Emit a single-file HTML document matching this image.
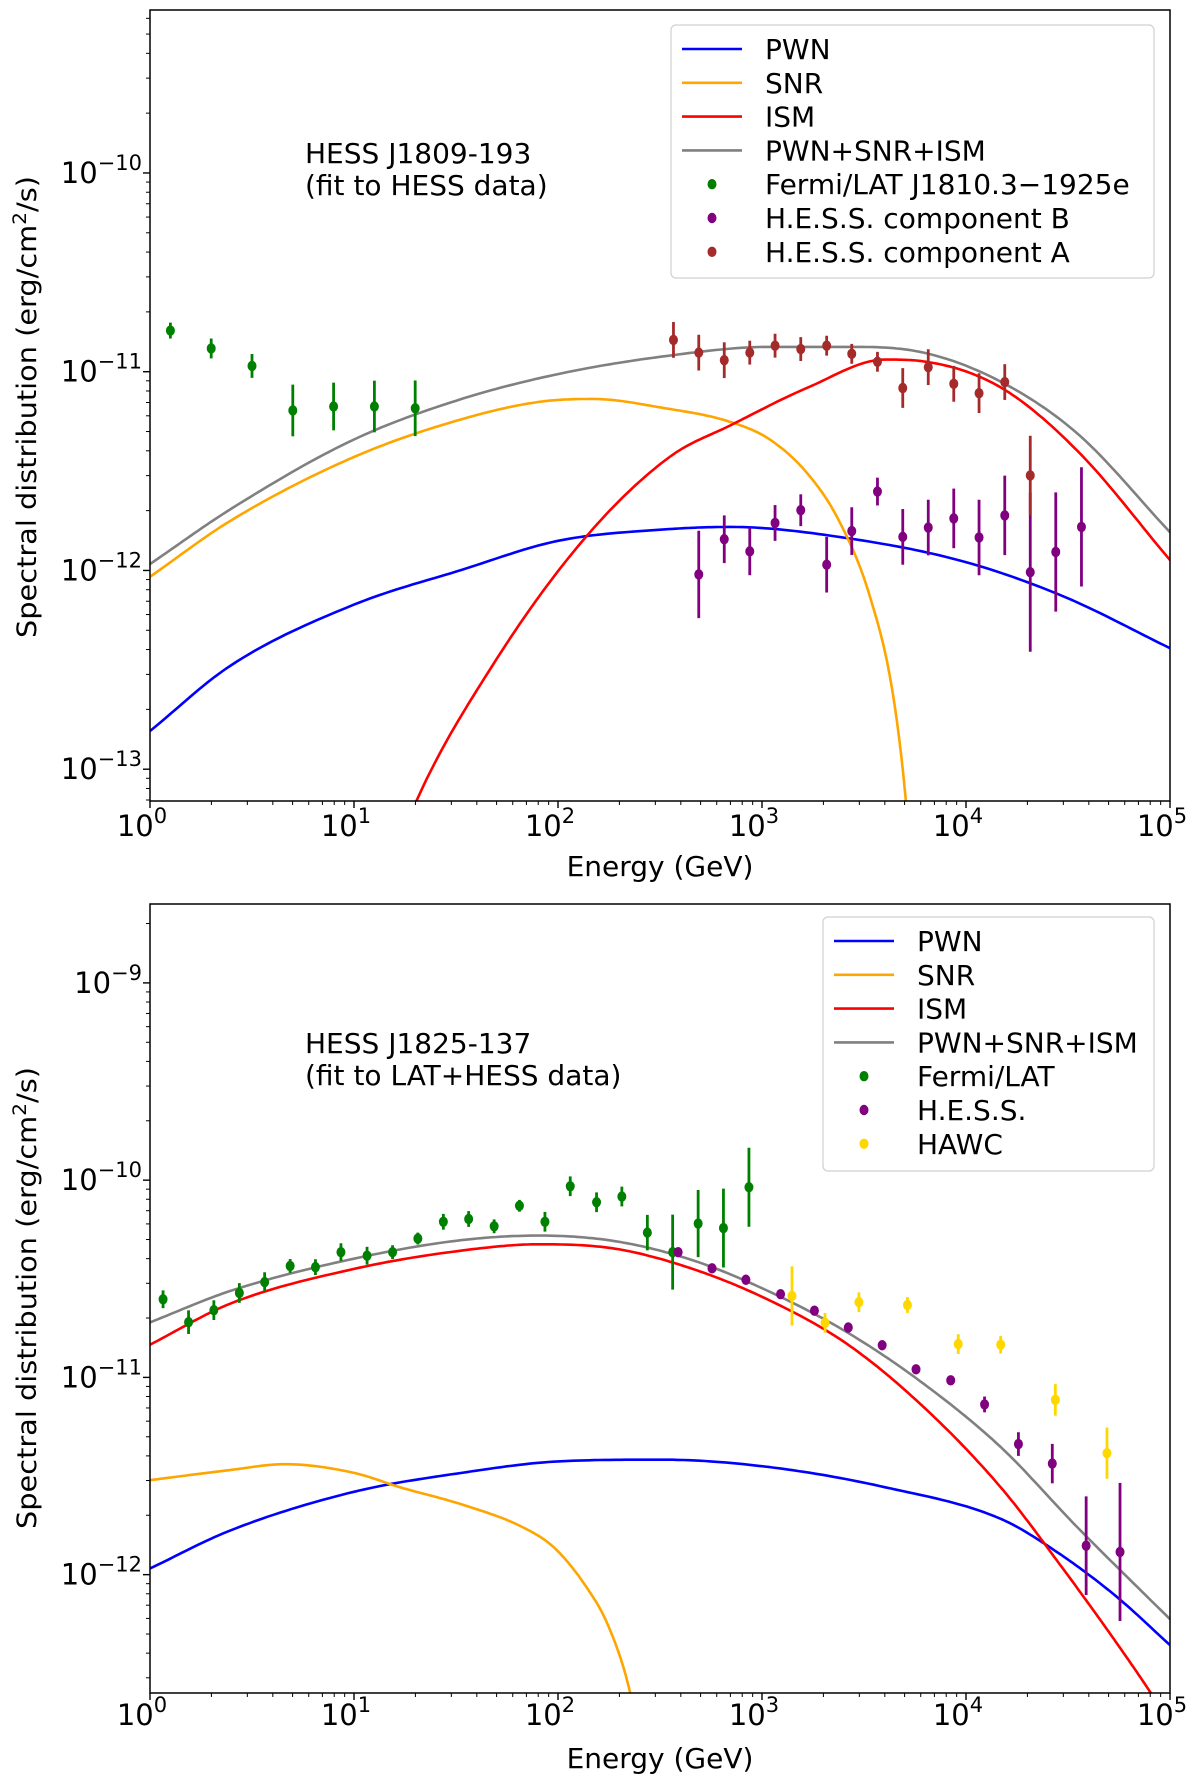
<!DOCTYPE html>
<html><head><meta charset="utf-8"><style>
body{margin:0;background:#fff}
svg{display:block;font-family:"DejaVu Sans","Liberation Sans",sans-serif}
</style></head><body>
<svg id="fig" width="1200" height="1780" viewBox="0 0 1200 1780" xmlns="http://www.w3.org/2000/svg"></svg>
<script>
// ---------- TOP PANEL DATA (log10 values: energy in GeV, flux in erg/cm2/s) ----------
const topFermiLogE=[0.10,0.30,0.50,0.70,0.90,1.10,1.30];
const topFermiLogF=[-10.793,-10.883,-10.971,-11.195,-11.175,-11.175,-11.184];
const topFermiErr=[0.04,0.05,0.06,0.13,0.12,0.13,0.14];
const topALogE=[2.566,2.69,2.815,2.94,3.064,3.19,3.317,3.44,3.566,3.69,3.815,3.94,4.064,4.19,4.315];
const topALogF=[-10.840,-10.904,-10.942,-10.904,-10.869,-10.886,-10.869,-10.910,-10.950,-11.082,-10.977,-11.061,-11.108,-11.052,-11.522];
const topAErr=[0.09,0.09,0.09,0.06,0.06,0.06,0.05,0.05,0.05,0.1,0.09,0.09,0.1,0.09,0.2];
const topBLogE=[2.69,2.815,2.94,3.064,3.19,3.317,3.44,3.566,3.69,3.815,3.94,4.064,4.19,4.315,4.44,4.566];
const topBLogF=[-12.020,-11.843,-11.904,-11.761,-11.697,-11.971,-11.802,-11.603,-11.831,-11.784,-11.738,-11.834,-11.723,-12.009,-11.907,-11.781];
const topBErr=[0.22,0.12,0.12,0.09,0.08,0.14,0.12,0.07,0.14,0.14,0.15,0.19,0.2,0.4,0.3,0.3];
const topPwnE=[0,0.396,1.0,1.528,2.0,2.528,2.849,3.415,3.981,4.472,5];
const topPwnF=[-12.808,-12.478,-12.172,-11.997,-11.851,-11.793,-11.781,-11.837,-11.953,-12.128,-12.391];
const topSnrE=[0,0.396,1.0,1.528,1.906,2.170,2.509,2.849,3.038,3.226,3.377,3.528,3.642,3.706,3.73];
const topSnrF=[-12.032,-11.749,-11.429,-11.239,-11.152,-11.137,-11.181,-11.254,-11.341,-11.516,-11.749,-12.128,-12.624,-13.169,-13.5];
const topIsmE=[1.2,1.302,1.679,2.132,2.547,2.849,3.226,3.604,3.792,4.170,4.547,5];
const topIsmF=[-13.45,-13.169,-12.478,-11.837,-11.429,-11.268,-11.079,-10.939,-10.948,-11.079,-11.399,-11.948];
const topSumE=[0,0.396,1.0,1.528,2.0,2.509,3.038,3.415,3.792,4.170,4.547,5];
const topSumF=[-11.968,-11.691,-11.341,-11.137,-11.012,-10.924,-10.875,-10.875,-10.904,-11.050,-11.312,-11.808];
const topYTicks=[-13,-12,-11,-10];
// ---------- BOTTOM PANEL DATA ----------
const botLatLogE=[0.064,0.189,0.313,0.438,0.562,0.687,0.811,0.936,1.064,1.189,1.313,1.438,1.562,1.687,1.811,1.936,2.06,2.189,2.313,2.438,2.562,2.687,2.811,2.936];
const botLatLogF=[-10.604,-10.72,-10.659,-10.572,-10.517,-10.435,-10.441,-10.365,-10.383,-10.365,-10.296,-10.211,-10.197,-10.234,-10.13,-10.211,-10.031,-10.112,-10.083,-10.266,-10.365,-10.22,-10.243,-10.036];
const botLatErr=[0.045,0.06,0.05,0.05,0.05,0.035,0.04,0.045,0.045,0.035,0.03,0.04,0.04,0.035,0.03,0.05,0.05,0.05,0.05,0.09,0.19,0.17,0.2,0.2];
const botHessLogE=[2.589,2.755,2.921,3.091,3.257,3.423,3.589,3.755,3.925,4.091,4.257,4.423,4.589,4.755];
const botHessLogF=[-10.365,-10.447,-10.505,-10.578,-10.662,-10.747,-10.837,-10.959,-11.015,-11.137,-11.338,-11.437,-11.853,-11.885];
const botHessErr=[0.01,0.01,0.01,0.01,0.015,0.015,0.015,0.02,0.02,0.04,0.06,0.1,0.25,0.35];
const botHawcLogE=[3.147,3.309,3.475,3.713,3.962,4.17,4.438,4.691];
const botHawcLogF=[-10.587,-10.723,-10.619,-10.633,-10.831,-10.834,-11.114,-11.384];
const botHawcErr=[0.15,0.05,0.05,0.04,0.05,0.045,0.08,0.13];
const botPwnE=[0,0.396,1.0,1.528,2.0,2.509,3.038,3.604,4.17,4.434,4.736,5];
const botPwnF=[-11.969,-11.775,-11.580,-11.484,-11.426,-11.417,-11.455,-11.557,-11.717,-11.877,-12.110,-12.357];
const botSnrE=[0,0.396,0.660,1.0,1.226,1.528,1.830,1.981,2.132,2.245,2.347,2.4];
const botSnrF=[-11.521,-11.469,-11.440,-11.484,-11.557,-11.644,-11.761,-11.863,-12.052,-12.256,-12.570,-12.85];
const botIsmE=[0,0.396,1.0,1.528,1.906,2.283,2.660,3.038,3.415,3.792,4.170,4.472,4.736,4.887,4.962];
const botIsmF=[-10.834,-10.625,-10.450,-10.357,-10.325,-10.348,-10.450,-10.610,-10.829,-11.150,-11.557,-11.965,-12.343,-12.570,-12.69];
const botSumE=[0,0.396,1.0,1.528,1.906,2.283,2.660,3.038,3.415,3.792,4.170,4.547,5];
const botSumF=[-10.721,-10.561,-10.398,-10.304,-10.281,-10.310,-10.406,-10.566,-10.770,-11.032,-11.353,-11.761,-12.226];
const botYTicks=[-12,-11,-10,-9];
const xTicks=[0,1,2,3,4,5];

const NS="http://www.w3.org/2000/svg";
const svg=document.getElementById('fig');
function mk(tag,attrs,parent){const e=document.createElementNS(NS,tag);for(const k in attrs)e.setAttribute(k,attrs[k]);(parent||svg).appendChild(e);return e;}
function supText(parent,x,y,exp,anchor){
  const t=mk('text',{x:x,y:y,'font-size':29,'text-anchor':anchor,fill:'#000'},parent);
  t.appendChild(document.createTextNode('10'));
  const s=mk('tspan',{'font-size':21,dy:-13},t);
  s.textContent=exp;
  return t;
}
// monotone cubic (Fritsch-Carlson) interpolation, sampled densely
function monoPath(xv,yv,xs,ys){
  const n=xv.length,d=[],m=[];
  for(let i=0;i<n-1;i++)d.push((yv[i+1]-yv[i])/(xv[i+1]-xv[i]));
  m[0]=d[0];m[n-1]=d[n-2];
  for(let i=1;i<n-1;i++){m[i]=(d[i-1]*d[i]<=0)?0:(d[i-1]+d[i])/2;}
  for(let i=0;i<n-1;i++){
    if(d[i]===0){m[i]=0;m[i+1]=0;continue;}
    const a=m[i]/d[i],b=m[i+1]/d[i],s=a*a+b*b;
    if(s>9){const t=3/Math.sqrt(s);m[i]=t*a*d[i];m[i+1]=t*b*d[i];}
  }
  let dstr='';
  for(let i=0;i<n-1;i++){
    const h=xv[i+1]-xv[i];
    for(let k=0;k<=20;k++){
      if(i>0&&k===0)continue;
      const t=k/20,t2=t*t,t3=t2*t;
      const y=(2*t3-3*t2+1)*yv[i]+(t3-2*t2+t)*h*m[i]+(-2*t3+3*t2)*yv[i+1]+(t3-t2)*h*m[i+1];
      const x=xv[i]+t*h;
      dstr+=(dstr?' L':'M')+xs(x).toFixed(1)+','+ys(y).toFixed(1);
    }
  }
  return dstr;
}
function panel(cfg){
  const g=mk('g',{});
  
  
  const L=150,R=1170,T=cfg.top,B=cfg.bottom;
  const xs=v=>L+(v-0)/5*(R-L);
  const ys=v=>B-(v-cfg.ymin)/(cfg.ymax-cfg.ymin)*(B-T);
  const cid='clip'+cfg.name;
  const cp=mk('clipPath',{id:cid},g);mk('rect',{x:L,y:T,width:R-L,height:B-T},cp);
  const plot=mk('g',{'clip-path':'url(#'+cid+')'},g);
  cfg.curves.forEach(c=>{
    const p=mk('path',{d:monoPath(c.e,c.f,xs,ys),fill:'none',stroke:c.color,'stroke-width':2.6,'stroke-linejoin':'round'},plot);
    
    
  });
  cfg.series.forEach(s=>{
    const sg=mk('g',{},plot);
    
    
    s.e.forEach((e,i)=>{
      const x=xs(e),y=ys(s.f[i]);
      mk('line',{x1:x,x2:x,y1:ys(s.f[i]-s.err[i]),y2:ys(s.f[i]+s.err[i]),stroke:s.color,'stroke-width':2.8},sg);
      const c=mk('ellipse',{cx:x,cy:y,rx:4.5,ry:5.2,fill:s.color},sg);
      
      
    });
  });
  const fr=mk('rect',{x:L,y:T,width:R-L,height:B-T,fill:'none',stroke:'#000','stroke-width':1.5},g);
  
  
  const xa=mk('g',{},g);
  
  
  xTicks.forEach(t=>{
    const x=xs(t);
    mk('line',{x1:x,x2:x,y1:B,y2:B+7,stroke:'#000','stroke-width':1.4},xa);
    const lbl=supText(xa,x-8,cfg.xlabY,String(t),'middle');
    
    
    if(t<5)for(let m=2;m<=9;m++){const xm=xs(t+Math.log10(m));mk('line',{x1:xm,x2:xm,y1:B,y2:B+4,stroke:'#000','stroke-width':1},xa);}
  });
  const xt=mk('text',{x:660,y:cfg.xTitleY,'font-size':28,'text-anchor':'middle'},g);
  xt.textContent='Energy (GeV)';
  
  
  const ya=mk('g',{},g);
  
  
  for(let d=Math.floor(cfg.ymin);d<=Math.ceil(cfg.ymax);d++){
    for(let m=1;m<=9;m++){
      const v=d+Math.log10(m);if(v<cfg.ymin||v>cfg.ymax)continue;
      const y=ys(v);
      mk('line',{x1:L,x2:L-(m===1?7:4),y1:y,y2:y,stroke:'#000','stroke-width':m===1?1.4:1},ya);
    }
  }
  cfg.yTicks.forEach(t=>{
    const lbl=supText(ya,142,ys(t)+10,'\u2212'+(-t),'end');
    
    
  });
  const yt=mk('text',{x:0,y:0,'font-size':27,'text-anchor':'middle',transform:'translate(36,'+cfg.yTitleY+') rotate(-90)',textLength:462,lengthAdjust:'spacingAndGlyphs'},g);
  yt.appendChild(document.createTextNode('Spectral distribution (erg/cm'));
  const s2=mk('tspan',{'font-size':19,dy:-10},yt);s2.textContent='2';
  const s3=mk('tspan',{dy:10},yt);s3.textContent='/s)';
  
  
  cfg.note.forEach((n,i)=>{
    const t=mk('text',{x:305,y:cfg.noteY+i*32,'font-size':28},g);
    t.textContent=n;
    
    
  });
  const lg=mk('g',{},g);
  
  
  const lb=cfg.legendBox;
  mk('rect',{x:lb[0],y:lb[1],width:lb[2],height:lb[3],rx:5,fill:'#fff','fill-opacity':0.85,stroke:'#d0d0d0','stroke-width':1.2},lg);
  cfg.legend.forEach((it,i)=>{
    const cy=cfg.legRow0+i*cfg.legStep;
    const eg=mk('g',{},lg);
    
    
    if(it.type==='line')mk('line',{x1:cfg.legLineX,x2:cfg.legLineX+60,y1:cy,y2:cy,stroke:it.color,'stroke-width':2.6},eg);
    else mk('ellipse',{cx:cfg.legLineX+30,cy:cy,rx:4.5,ry:5.2,fill:it.color},eg);
    const t=mk('text',{x:cfg.legLineX+83,y:cy+10,'font-size':28},eg);
    t.textContent=it.label;
  });
}
const curveColors={pwn:'#0000ff',snr:'#ffa500',ism:'#ff0000',sum:'#808080'};
panel({name:'top-panel',top:10,bottom:801,ymin:-13.16,ymax:-9.18,yTicks:topYTicks,xlabY:836,xTitleY:876,yTitleY:407,
  note:['HESS J1809-193','(fit to HESS data)'],noteY:163,
  legendBox:[671,25,483,253],legRow0:49,legStep:33.8,legLineX:682,
  curves:[{name:'pwn-curve',e:topPwnE,f:topPwnF,color:curveColors.pwn},{name:'snr-curve',e:topSnrE,f:topSnrF,color:curveColors.snr},{name:'ism-curve',e:topIsmE,f:topIsmF,color:curveColors.ism},{name:'total-curve',e:topSumE,f:topSumF,color:curveColors.sum}],
  series:[{name:'fermi-lat-points',e:topFermiLogE,f:topFermiLogF,err:topFermiErr,color:'#008000'},{name:'hess-b-points',e:topBLogE,f:topBLogF,err:topBErr,color:'#800080'},{name:'hess-a-points',e:topALogE,f:topALogF,err:topAErr,color:'#a52a2a'}],
  legend:[{type:'line',color:curveColors.pwn,label:'PWN'},{type:'line',color:curveColors.snr,label:'SNR'},{type:'line',color:curveColors.ism,label:'ISM'},{type:'line',color:curveColors.sum,label:'PWN+SNR+ISM'},{type:'dot',color:'#008000',label:'Fermi/LAT J1810.3\u22121925e'},{type:'dot',color:'#800080',label:'H.E.S.S. component B'},{type:'dot',color:'#a52a2a',label:'H.E.S.S. component A'}]
});
panel({name:'bottom-panel',top:904,bottom:1693,ymin:-12.6,ymax:-8.6,yTicks:botYTicks,xlabY:1725,xTitleY:1768,yTitleY:1298,
  note:['HESS J1825-137','(fit to LAT+HESS data)'],noteY:1053,
  legendBox:[823,917,331,254],legRow0:941,legStep:33.8,legLineX:834,
  curves:[{name:'pwn-curve',e:botPwnE,f:botPwnF,color:curveColors.pwn},{name:'snr-curve',e:botSnrE,f:botSnrF,color:curveColors.snr},{name:'ism-curve',e:botIsmE,f:botIsmF,color:curveColors.ism},{name:'total-curve',e:botSumE,f:botSumF,color:curveColors.sum}],
  series:[{name:'fermi-lat-points',e:botLatLogE,f:botLatLogF,err:botLatErr,color:'#008000'},{name:'hess-points',e:botHessLogE,f:botHessLogF,err:botHessErr,color:'#800080'},{name:'hawc-points',e:botHawcLogE,f:botHawcLogF,err:botHawcErr,color:'#ffd700'}],
  legend:[{type:'line',color:curveColors.pwn,label:'PWN'},{type:'line',color:curveColors.snr,label:'SNR'},{type:'line',color:curveColors.ism,label:'ISM'},{type:'line',color:curveColors.sum,label:'PWN+SNR+ISM'},{type:'dot',color:'#008000',label:'Fermi/LAT'},{type:'dot',color:'#800080',label:'H.E.S.S.'},{type:'dot',color:'#ffd700',label:'HAWC'}]
});
</script>
</body></html>
